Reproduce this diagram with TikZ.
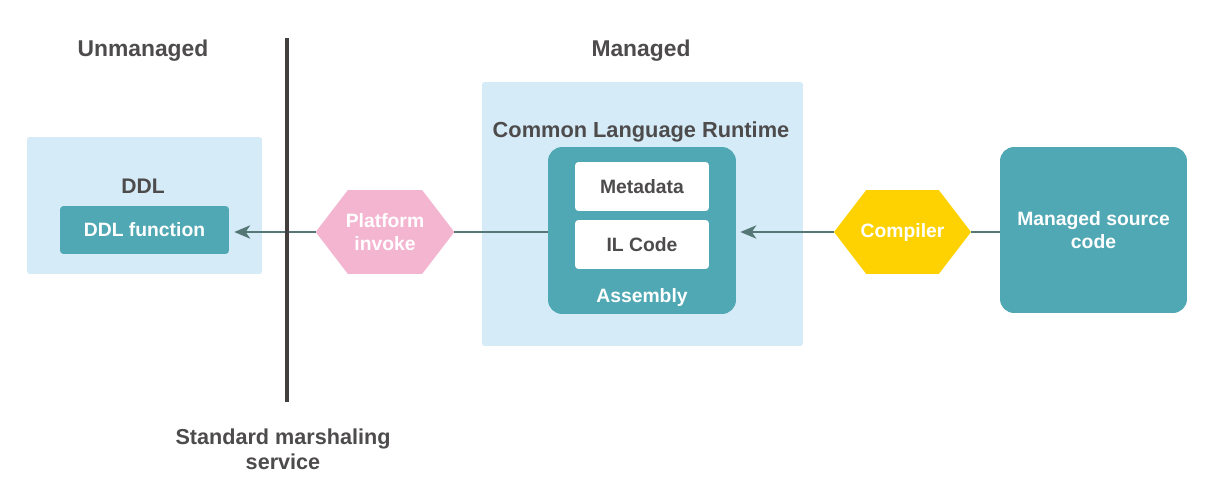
\documentclass[tikz,border=0pt]{standalone}
\usepackage{fontspec}
\setmainfont{Liberation Sans}
\usetikzlibrary{shapes.symbols,arrows.meta}

\definecolor{zoneblue}{HTML}{D5ECF8}
\definecolor{boxteal}{HTML}{4FA8B3}
\definecolor{invpink}{HTML}{F4B5D0}
\definecolor{compyellow}{HTML}{FDD200}
\definecolor{textdark}{HTML}{4D4B4B}
\definecolor{flowgray}{HTML}{557775}
\definecolor{bargray}{HTML}{443F3F}

\tikzset{
  zone/.style={fill=zoneblue, inner sep=0pt, outer sep=0pt, rounded corners=1.5pt},
  tealbox/.style={fill=boxteal, text=white, inner sep=0pt, outer sep=0pt, align=center,
    font=\bfseries\fontsize{11}{13.6}\selectfont},
  whitebox/.style={fill=white, text=textdark, inner sep=0pt, outer sep=0pt, rounded corners=2pt,
    minimum width=2.68cm, minimum height=0.98cm, font=\bfseries\fontsize{11}{13.6}\selectfont},
  hexa/.style={signal, signal to=east and west, signal pointer angle=105, text=white,
    inner ysep=0pt, outer sep=0pt, minimum width=2.76cm, minimum height=1.68cm, align=center,
    font=\bfseries\fontsize{11}{13}\selectfont},
  heading/.style={text=textdark, align=center, font=\bfseries\fontsize{13}{13.6}\selectfont},
  flow/.style={draw=flowgray, line width=1.5pt},
  flowarrow/.style={flow, -{Stealth[length=9pt, width=7.5pt, inset=2.5pt]}}
}

\begin{document}
\begin{tikzpicture}[x=0.02cm, y=-0.02cm]
  \fill[white] (0,0) rectangle (1210,497);
  \useasboundingbox (0,0) rectangle (1210,497);

  % unmanaged side
  \node[heading] (unmanaged) at (143,51) {Unmanaged};
  \node[zone, minimum width=4.7cm, minimum height=2.74cm] (ddlzone) at (144.5,205.5) {};
  \node[heading, font=\bfseries\fontsize{12}{13.6}\selectfont] (ddllabel) at (143,186) {DDL};
  \node[tealbox, rounded corners=2pt, minimum width=3.38cm, minimum height=0.96cm] (ddlfn) at (144.5,230) {DDL function};

  % managed side
  \node[heading] (managed) at (641,51) {Managed};
  \node[zone, minimum width=6.42cm, minimum height=5.28cm] (clr) at (642.5,214) {};
  \node[heading, font=\bfseries\fontsize{12.4}{13.6}\selectfont] (clrlabel) at (641,132) {Common Language Runtime};
  \node[tealbox, rounded corners=8pt, minimum width=3.76cm, minimum height=3.34cm] (assembly) at (642,230.5) {};
  \node[whitebox] (metadata) at (642,186.5) {Metadata};
  \node[whitebox] (ilcode) at (642,244.5) {IL Code};
  \node[tealbox] (asmlabel) at (642,297) {Assembly};

  \node[tealbox, rounded corners=8pt, minimum width=3.74cm, minimum height=3.32cm] (source) at (1093.5,230) {\raisebox{-3pt}{\shortstack{Managed source\\code}}};

  \node[hexa, fill=invpink, inner xsep=-1.2pt] (invoke) at (385,232) {Platform\\invoke};
  \node[hexa, fill=compyellow, inner xsep=-3.6pt, minimum width=2.74cm] (compiler) at (902.5,232) {Compiler};

  % connectors
  \draw[flowarrow, shorten >=3pt] (invoke.west) -- (ddlfn.east |- invoke.west);
  \draw[flow] (assembly.west |- invoke.east) -- (invoke.east);
  \draw[flowarrow, shorten >=2.5pt] (compiler.west) -- (assembly.east |- compiler.west);
  \draw[flow] (source.west |- compiler.east) -- (compiler.east);

  % marshaling boundary
  \coordinate (bartop) at (287,38);
  \coordinate (barbot) at (287,402);
  \draw[bargray, line width=2.4pt] (bartop) -- (barbot);
  \node[heading, font=\bfseries\fontsize{12.3}{14.2}\selectfont] (marshal) at (283,449) {Standard marshaling\\service};
\end{tikzpicture}
\end{document}
